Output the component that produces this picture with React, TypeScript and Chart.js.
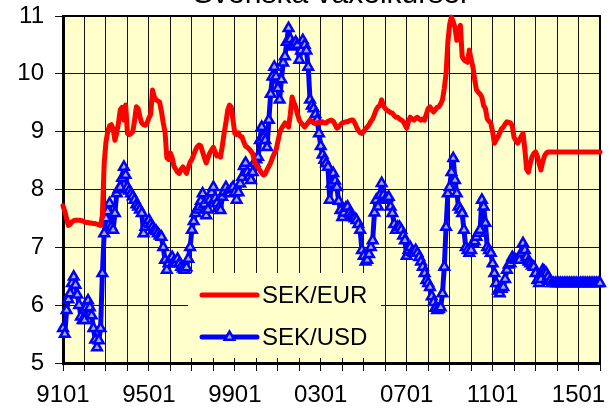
import React, { useEffect, useRef } from 'react';
import { Chart, registerables } from 'chart.js';

Chart.register(...registerables);

const TITLE = 'Svenska växelkurser';
const SERIES_NAMES = ['SEK/EUR', 'SEK/USD'];
const X_TICK_LABELS = ['9101', '9501', '9901', '0301', '0701', '1101', '1501'];

// Monthly values, January 1991 .. January 2016
const SEK_EUR = [
  7.72, 7.62, 7.50, 7.38, 7.40, 7.44, 7.46, 7.47, 7.47, 7.47, 7.46, 7.46,
  7.44, 7.43, 7.43, 7.42, 7.42, 7.41, 7.41, 7.40, 7.39, 7.38, 7.55, 8.45,
  8.82, 9.00, 9.10, 9.12, 9.05, 8.85, 8.98, 9.15, 9.38, 9.42, 9.20, 9.46,
  8.97, 8.95, 8.97, 9.00, 9.20, 9.43, 9.40, 9.25, 9.15, 9.12, 9.11, 9.15,
  9.24, 9.30, 9.72, 9.60, 9.55, 9.53, 9.51, 9.35, 9.15, 9.00, 8.55, 8.52,
  8.63, 8.55, 8.40, 8.35, 8.30, 8.28, 8.35, 8.39, 8.33, 8.28, 8.38, 8.47,
  8.52, 8.60, 8.68, 8.74, 8.77, 8.75, 8.65, 8.55, 8.46, 8.55, 8.63, 8.68,
  8.73, 8.65, 8.58, 8.60, 8.56, 8.75, 8.97, 9.15, 9.37, 9.46, 9.42, 9.20,
  8.97, 8.95, 8.98, 8.92, 8.91, 8.82, 8.75, 8.73, 8.70, 8.66, 8.62, 8.48,
  8.42, 8.38, 8.33, 8.28, 8.25, 8.27, 8.34, 8.40, 8.46, 8.55, 8.62, 8.68,
  8.82, 8.97, 9.05, 9.10, 9.15, 9.12, 9.08, 9.30, 9.60, 9.50, 9.43, 9.30,
  9.20, 9.15, 9.12, 9.08, 9.12, 9.16, 9.20, 9.18, 9.15, 9.14, 9.15, 9.16,
  9.15, 9.17, 9.15, 9.15, 9.18, 9.19, 9.20, 9.18, 9.12, 9.06, 9.08, 9.12,
  9.15, 9.16, 9.17, 9.17, 9.19, 9.20, 9.20, 9.15, 9.08, 9.02, 8.98, 8.97,
  9.00, 9.05, 9.08, 9.12, 9.18, 9.22, 9.30, 9.38, 9.43, 9.45, 9.55, 9.45,
  9.40, 9.37, 9.35, 9.33, 9.32, 9.28, 9.25, 9.25, 9.22, 9.20, 9.18, 9.12,
  9.06, 9.18, 9.25, 9.22, 9.20, 9.23, 9.25, 9.22, 9.20, 9.22, 9.20, 9.30,
  9.40, 9.43, 9.38, 9.34, 9.38, 9.42, 9.43, 9.48, 9.55, 9.75, 10.00, 10.55,
  10.85, 10.98, 10.90, 10.80, 10.58, 10.75, 10.84, 10.30, 10.24, 10.22, 10.20, 10.41,
  10.25, 10.12, 9.90, 9.72, 9.68, 9.65, 9.60, 9.45, 9.40, 9.22, 9.18, 9.15,
  9.00, 8.80, 8.86, 8.91, 8.98, 9.05, 9.08, 9.13, 9.17, 9.16, 9.15, 9.10,
  8.90, 8.85, 8.80, 8.86, 8.92, 8.97, 8.70, 8.35, 8.30, 8.45, 8.56, 8.62,
  8.65, 8.58, 8.45, 8.34, 8.48, 8.58, 8.63, 8.65, 8.65, 8.65, 8.65, 8.65,
  8.65, 8.65, 8.65, 8.65, 8.65, 8.65, 8.65, 8.65, 8.65, 8.65, 8.65, 8.65,
  8.65, 8.65, 8.65, 8.65, 8.65, 8.65, 8.65, 8.65, 8.65, 8.65, 8.65, 8.65,
  8.65,
];

const SEK_USD = [
  5.60, 5.50, 5.91, 6.10, 6.20, 6.38, 6.49, 6.35, 6.18, 6.00, 5.80, 5.74,
  5.74, 5.96, 6.08, 5.96, 5.82, 5.60, 5.40, 5.27, 5.39, 5.60, 6.55, 7.24,
  7.50, 7.62, 7.76, 7.35, 7.30, 7.59, 7.93, 8.00, 8.04, 8.20, 8.39, 8.25,
  8.04, 7.98, 7.93, 7.88, 7.82, 7.74, 7.70, 7.65, 7.59, 7.24, 7.35, 7.42,
  7.47, 7.40, 7.35, 7.30, 7.28, 7.24, 7.20, 7.18, 7.00, 6.78, 6.61, 6.72,
  6.80, 6.83, 6.75, 6.72, 6.80, 6.72, 6.66, 6.63, 6.61, 6.65, 6.80, 7.00,
  7.30, 7.45, 7.59, 7.65, 7.70, 7.80, 7.93, 7.75, 7.55, 7.65, 7.82, 7.95,
  8.04, 7.85, 7.76, 7.68, 7.64, 7.87, 7.96, 8.04, 7.95, 7.93, 8.00, 8.04,
  7.95, 7.82, 7.95, 8.10, 8.21, 8.40, 8.46, 8.30, 8.22, 8.16, 8.30, 8.46,
  8.52, 8.56, 8.85, 9.08, 8.90, 8.85, 8.73, 9.20, 9.65, 9.95, 10.12, 9.95,
  9.75, 9.55, 9.90, 10.19, 10.30, 10.55, 10.79, 10.60, 10.50, 10.47, 10.55, 10.50,
  10.24, 10.40, 10.58, 10.50, 10.40, 10.12, 9.55, 9.45, 9.40, 9.30, 9.20, 8.97,
  8.75, 8.60, 8.51, 8.45, 8.39, 7.82, 8.10, 8.28, 8.15, 8.04, 7.80, 7.64,
  7.52, 7.60, 7.68, 7.70, 7.59, 7.55, 7.52, 7.50, 7.47, 7.40, 7.30, 6.95,
  6.85, 6.75, 6.78, 6.88, 7.00, 7.12, 7.60, 7.82, 7.70, 7.90, 8.11, 7.90,
  7.82, 7.85, 7.87, 7.70, 7.59, 7.40, 7.30, 7.35, 7.35, 7.30, 7.20, 7.12,
  6.85, 6.95, 7.00, 6.92, 6.90, 6.95, 6.90, 6.83, 6.75, 6.66, 6.55, 6.43,
  6.38, 6.31, 6.15, 6.05, 5.95, 5.91, 5.93, 5.96, 6.20, 6.66, 7.35, 7.93,
  8.04, 8.30, 8.54, 8.16, 7.93, 7.70, 7.65, 7.59, 7.30, 7.00, 6.95, 6.90,
  6.95, 7.07, 7.10, 7.18, 7.25, 7.30, 7.82, 7.70, 7.42, 7.00, 6.95, 6.90,
  6.72, 6.55, 6.38, 6.25, 6.20, 6.28, 6.31, 6.45, 6.61, 6.70, 6.72, 6.83,
  6.80, 6.78, 6.78, 6.78, 6.90, 7.07, 6.95, 6.83, 6.75, 6.72, 6.68, 6.66,
  6.55, 6.43, 6.38, 6.45, 6.61, 6.58, 6.55, 6.49, 6.42, 6.38, 6.38, 6.38,
  6.38, 6.38, 6.38, 6.38, 6.38, 6.38, 6.38, 6.38, 6.38, 6.38, 6.38, 6.38,
  6.38, 6.38, 6.38, 6.38, 6.38, 6.38, 6.38, 6.38, 6.38, 6.38, 6.38, 6.38,
  6.38,
];

const FONT = '"Liberation Sans", Arial, Helvetica, sans-serif';
const BG = '#FFFFCC';
const RED = '#FF0000';
const BLUE = '#0000FF';
const MARKER_FILL = '#AAAAFF';

const decor = {
  id: 'decor',
  beforeDraw(chart: any) {
    const { ctx, chartArea: a } = chart;
    ctx.save();
    ctx.fillStyle = BG;
    ctx.fillRect(a.left, a.top, a.right - a.left, a.bottom - a.top);
    ctx.fillStyle = '#000';
    ctx.font = `30px ${FONT}`;
    ctx.textAlign = 'center';
    ctx.textBaseline = 'alphabetic';
    ctx.fillText(TITLE, (a.left + a.right) / 2, 3);
    ctx.restore();
  },
  beforeDatasetsDraw(chart: any) {
    const { ctx, chartArea: a } = chart;
    ctx.save();
    // legend box (covers grid lines)
    ctx.fillStyle = BG;
    ctx.fillRect(a.left + 125, a.top + 257, 193, 85);
    // top and right frame
    ctx.strokeStyle = '#000';
    ctx.lineWidth = 2;
    ctx.beginPath();
    ctx.moveTo(a.left, a.top);
    ctx.lineTo(a.right, a.top);
    ctx.lineTo(a.right, a.bottom);
    ctx.stroke();
    ctx.restore();
  },
  afterDatasetsDraw(chart: any) {
    const { ctx, chartArea: a } = chart;
    ctx.save();
    const x0 = a.left + 139;
    const x1 = a.left + 194;
    const ys = [a.top + 279, a.top + 321];
    const cols = [RED, BLUE];
    ctx.font = `24px ${FONT}`;
    ctx.textAlign = 'left';
    ctx.textBaseline = 'middle';
    for (let i = 0; i < 2; i++) {
      ctx.strokeStyle = cols[i];
      ctx.lineWidth = 5;
      ctx.lineCap = 'round';
      ctx.beginPath();
      ctx.moveTo(x0, ys[i]);
      ctx.lineTo(x1, ys[i]);
      ctx.stroke();
      if (i === 1) {
        const cx = (x0 + x1) / 2;
        const cy = ys[i];
        const r = 5.5;
        ctx.lineWidth = 2.5;
        ctx.lineCap = 'butt';
        ctx.fillStyle = MARKER_FILL;
        ctx.beginPath();
        ctx.moveTo(cx, cy - r);
        ctx.lineTo(cx + r * Math.sin((2 * Math.PI) / 3), cy - r * Math.cos((2 * Math.PI) / 3));
        ctx.lineTo(cx + r * Math.sin((4 * Math.PI) / 3), cy - r * Math.cos((4 * Math.PI) / 3));
        ctx.closePath();
        ctx.fill();
        ctx.stroke();
      }
      ctx.fillStyle = '#000';
      ctx.fillText(SERIES_NAMES[i], x1 + 5, ys[i] + 1);
    }
    ctx.restore();
  },
};

export default function App() {
  const ref = useRef<HTMLCanvasElement | null>(null);
  useEffect(() => {
    if (!ref.current) return;
    const chart = new Chart(ref.current, {
      type: 'line',
      data: {
        datasets: [
          {
            label: SERIES_NAMES[0],
            data: SEK_EUR.map((v, i) => ({ x: i, y: v })),
            borderColor: RED,
            backgroundColor: RED,
            borderWidth: 5,
            pointRadius: 0,
            borderJoinStyle: 'round',
            borderCapStyle: 'round',
            clip: 4,
          },
          {
            label: SERIES_NAMES[1],
            data: SEK_USD.map((v, i) => ({ x: i, y: v })),
            borderColor: BLUE,
            backgroundColor: BLUE,
            borderWidth: 5,
            borderJoinStyle: 'round',
            pointStyle: 'triangle',
            pointRadius: 5.5,
            pointBorderWidth: 2.5,
            pointBorderColor: BLUE,
            pointBackgroundColor: MARKER_FILL,
            clip: false,
          },
        ],
      } as any,
      options: {
        animation: false,
        responsive: false,
        devicePixelRatio: 1,
        layout: { padding: { top: 16, right: 12, left: 0, bottom: 0 } },
        plugins: {
          legend: { display: false },
          tooltip: { enabled: false },
          title: { display: false },
        },
        scales: {
          x: {
            type: 'linear',
            min: 0,
            max: 300,
            afterFit(scale: any) {
              scale.height = 47;
              scale.paddingLeft = 0;
              scale.paddingRight = 0;
            },
            grid: { color: '#111', lineWidth: 1, tickLength: 8 },
            border: { display: true, color: '#000', width: 3 },
            ticks: {
              stepSize: 12,
              autoSkip: false,
              maxRotation: 0,
              minRotation: 0,
              padding: 10,
              color: '#000',
              font: { family: FONT, size: 24 },
              callback: (v: any) => (Number(v) % 48 === 0 ? X_TICK_LABELS[Number(v) / 48] ?? '' : ''),
            },
          },
          y: {
            min: 5,
            max: 11,
            afterFit(scale: any) {
              scale.width = 63;
              scale.paddingTop = 0;
              scale.paddingBottom = 0;
            },
            grid: { color: '#111', lineWidth: 1, tickLength: 8 },
            border: { display: true, color: '#000', width: 3 },
            ticks: {
              stepSize: 1,
              padding: 11,
              color: '#000',
              font: { family: FONT, size: 24 },
            },
          },
        },
      } as any,
      plugins: [decor],
    });
    return () => chart.destroy();
  }, []);
  return (
    <div style={{ position: 'absolute', left: 0, top: 0, width: 612, height: 410, background: '#fff' }}>
      <canvas ref={ref} width={612} height={410} style={{ display: 'block' }} />
    </div>
  );
}
